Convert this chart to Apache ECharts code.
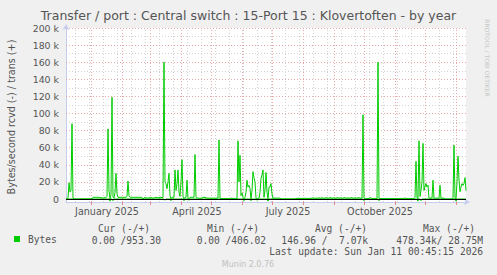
<!DOCTYPE html>
<html><head><meta charset="utf-8">
<script src="https://cdn.jsdelivr.net/npm/echarts@6/dist/echarts.min.js"></script>
<style>html,body{margin:0;padding:0;background:#f0f0f0}#c{width:497px;height:275px}</style>
</head><body><div id="c"></div>
<script>
// ---- data (values in k bytes/second), one value per day from 2024-12-07 00:45 ----
const startUTC = [2024, 11, 7, 0, 45];
const trans = [
  0,0,1,19,8,10,88,1,0,0,
  0,0,0,0,0,0,0,0,0,0,
  0,0,0,0,0,0,0,2,2,2,
  2,2,2,2,1.5,1.5,1.5,1,1.5,1.5,
  1.5,3,82,10,0,5,119,2,1,8,
  30,6,2,2,2,2,2,2,2,2,
  2,3,21,4,2,2,2,2,2,2,
  2,2,2,2,2,2,2,0,1.5,1.5,
  1.5,1,1,1.5,1.5,1.5,1.5,1,1,2,
  2,1.5,1.5,1.5,2,2,1.5,2,160,20,
  18,12,20,30,4,0,2,2,2,34,
  10,18,34,8,3,20,46,3,0,2,
  2,22,1,0,2,2,2,2,2,52,
  2,1,1,1,1,1,1,2,2,2,
  1.5,1,1,1,1,1,1,1,1,1,
  1,1,1,69,1,0.5,0.5,0.5,0.5,0.5,
  0.5,0.5,0.5,0.5,0.5,1,1,0.5,0.5,0.5,
  0.5,0.5,68,20,51,4,7,2,0,2,
  8,22,14,16,12,0,10,32,25,20,
  1,0,1,1,8,24,28,34,2,10,
  31,8,0,14,14,18,6,1,1,1,
  1,1,1,1,1,0,0,0,0,0,
  0,0,0,0,0,0,0,0,0,0,
  0.7,0.7,0.7,1,0.7,0.7,0.7,0.7,1,0.7,
  0.7,0.7,0.7,0.7,0.7,0.7,1.5,1,1,1,
  1,1,1,1.5,1,1,1.5,1,1,1,
  1.5,1.5,1,1,1.5,1.5,1,1,1.5,1,
  1,1.5,1.5,1,1,1.5,1,1,1.5,1.5,
  1,1,1.5,1,1,1.5,1.5,1,1,1.5,
  1,1,1.5,1.5,1,1,1,98.5,1,0.5,
  0.5,0.5,0.5,0.5,1.5,1.5,0.5,0.5,0.5,0.5,
  0.5,0.5,160,0.5,0.5,0.5,0.5,0.5,0.5,0.5,
  0.5,0.5,0.5,0.5,0.5,0.5,0.5,0.5,0.5,0.5,
  0.5,0.5,0.5,0.5,0.5,0.5,0.5,0.5,0.5,1.5,
  0.5,0.5,0.5,0.5,0.5,0.5,0.5,0.5,0.5,2,
  44,2,0,68,3,10,20,65,10,15,
  18,14,16,1,1,1,1,22,1,1,
  1,1,1,1,16,1,1,1,1,0,
  0,0,0,0,0,0,0,2,63,1,
  0,20,50,22,8.5,14,18,16,18,25,
  10
];
// received (drawn negative): day index -> value (k)
const rcvdDips = [[44,-2.5],[47,-2],[99,-1.5],[105,-2],[118,-2],[123,-1.5],[178,-2],[185,-2],[191,-1.5],[202,-2.5],[298,-2],[313,-2],[352,-2.5],[355,-2],[390,-2.5]];
const yTicks = [0,20,40,60,80,100,120,140,160,180,200];
const yMinorTicks = [10,30,50,70,90,110,130,150,170,190];
const xLabelDates = [[2025,0,17],[2025,3,17],[2025,6,17],[2025,9,17]];
const xLabelTexts = ['January 2025','April 2025','July 2025','October 2025'];
const monthStarts = [[2025,0],[2025,1],[2025,2],[2025,3],[2025,4],[2025,5],[2025,6],[2025,7],[2025,8],[2025,9],[2025,10],[2025,11],[2026,0]];
const legendHeaders = ['Cur (-/+)','Min (-/+)','Avg (-/+)','Max (-/+)'];
const legendValues = ['0.00 /953.30','0.00 /406.02','146.96 /  7.07k','478.34k/ 28.75M'];
const titleText = 'Transfer / port : Central switch : 15-Port 15 : Klovertoften - by year';
const yName = 'Bytes/second rcvd (-) / trans (+)';
const lastUpdate = 'Last update: Sun Jan 11 00:45:15 2026';

// ---- build ----
const DAY = 86400000;
const t0 = Date.UTC(...startUTC);
const tEnd = t0 + 400 * DAY;
const transData = trans.map((v, d) => [t0 + d * DAY, v]);
const dipMap = new Map(rcvdDips);
const rcvdData = trans.map((_, d) => [t0 + d * DAY, dipMap.has(d) ? dipMap.get(d) : 0]);
const labelTs = xLabelDates.map(a => Date.UTC(a[0], a[1], a[2], 0, 45));
const monthTs = monthStarts.map(a => Date.UTC(a[0], a[1], 1));
const weekTs = [];
for (let t = Date.UTC(2024, 11, 16); t < tEnd; t += 14 * DAY) weekTs.push(t);

const RED = '#eaa8a8', GRAY = '#d2d2d2', GREEN = '#00cc00', AXIS = '#c4ccf2', TXT = '#555';
const dash = [1, 2];
const gridLines = [];
yMinorTicks.forEach(v => gridLines.push({yAxis: v, lineStyle: {color: GRAY, type: dash, width: 1}}));
weekTs.forEach(t => gridLines.push({xAxis: t, lineStyle: {color: GRAY, type: dash, width: 1}}));
yTicks.forEach(v => gridLines.push({yAxis: v, lineStyle: {color: RED, type: dash, width: 1}}));
monthTs.forEach(t => gridLines.push({xAxis: t, lineStyle: {color: RED, type: dash, width: 1}}));

const mono = 'DejaVu Sans Mono';
const texts = [];
const hdrX = [98, 207, 315, 423];
legendHeaders.forEach((s, i) => texts.push({type: 'text', x: hdrX[i], y: 228, style: {text: s, font: '9.6px "' + mono + '"', fill: TXT, textAlign: 'left', textVerticalAlign: 'middle'}}));
const valRight = [161, 266, 368, 483];
legendValues.forEach((s, i) => texts.push({type: 'text', x: valRight[i], y: 240, style: {text: s, font: '9.6px "' + mono + '"', fill: TXT, textAlign: 'right', textVerticalAlign: 'middle'}}));
texts.push({type: 'text', x: 483, y: 251.5, style: {text: lastUpdate, font: '9.6px "' + mono + '"', fill: TXT, textAlign: 'right', textVerticalAlign: 'middle'}});
texts.push({type: 'text', x: 248, y: 264.5, style: {text: 'Munin 2.0.76', font: '8px "DejaVu Sans"', fill: '#c0c0c0', textAlign: 'center', textVerticalAlign: 'middle'}});
texts.push({type: 'text', x: 11, y: 117, rotation: Math.PI / 2, style: {text: yName, font: '9.6px "DejaVu Sans"', fill: TXT, textAlign: 'center', textVerticalAlign: 'middle'}});
texts.push({type: 'text', x: 487, y: 58, rotation: -Math.PI / 2, style: {text: 'RRDTOOL / TOBI OETIKER', font: '6px "DejaVu Sans"', fill: '#c8c8c8', textAlign: 'center', textVerticalAlign: 'middle'}});

const chart = echarts.init(document.getElementById('c'), null, {renderer: 'svg'});
chart.setOption({
  animation: false,
  backgroundColor: '#f0f0f0',
  textStyle: {fontFamily: 'DejaVu Sans'},
  title: {text: titleText, left: 'center', top: 4, padding: [5, 5, 0, 5], textStyle: {fontSize: 12.5, lineHeight: 13, fontWeight: 'normal', color: TXT, fontFamily: 'DejaVu Sans'}},
  grid: {left: 66, top: 28, width: 400, height: 174, show: true, backgroundColor: '#ffffff', borderWidth: 0, outerBoundsMode: 'none'},
  legend: {data: ['Bytes'], left: 9, top: 229, icon: 'rect', itemWidth: 6, itemHeight: 6, itemGap: 0,
    textStyle: {fontFamily: mono, fontSize: 9.6, color: TXT, padding: [0, 0, 0, 3]}},
  xAxis: {type: 'value', min: t0, max: tEnd,
    axisLine: {onZero: false, lineStyle: {color: AXIS, width: 1}, symbol: ['none', 'arrow'], symbolSize: [5, 6], symbolOffset: [0, 4]},
    axisTick: {show: true, customValues: monthTs, length: 3, lineStyle: {color: '#e08a8a'}},
    axisLabel: {customValues: labelTs, formatter: v => { const i = labelTs.indexOf(v); return i >= 0 ? xLabelTexts[i] : ''; }, color: TXT, fontSize: 9.6, margin: 4, fontFamily: 'DejaVu Sans', hideOverlap: false},
    splitLine: {show: false}},
  yAxis: {type: 'value', min: -3.5, max: 200,
    axisLine: {show: true, lineStyle: {color: AXIS, width: 1}, symbol: ['none', 'arrow'], symbolSize: [5, 6], symbolOffset: [0, 4]},
    axisTick: {show: false},
    axisLabel: {customValues: yTicks, formatter: v => v === 0 ? '0' : v + ' k', color: TXT, fontSize: 9.4, lineHeight: 10, margin: 7, fontFamily: 'DejaVu Sans'},
    splitLine: {show: false}},
  series: [
    {type: 'line', name: '', data: [], silent: true, z: 1,
      markLine: {silent: true, symbol: ['none', 'none'], label: {show: false}, z: 1, animation: false, data: gridLines}},
    {type: 'line', name: 'Bytes', data: rcvdData, showSymbol: false, z: 2, lineStyle: {color: GREEN, width: 1}, itemStyle: {color: GREEN}},
    {type: 'line', name: 'Bytes', data: transData, showSymbol: false, z: 3, lineStyle: {color: GREEN, width: 1}, itemStyle: {color: GREEN}},
    {type: 'line', name: '', data: [], silent: true, z: 4,
      markLine: {silent: true, symbol: ['none', 'none'], label: {show: false}, z: 4, animation: false, data: [{yAxis: 0, lineStyle: {color: '#000', type: 'solid', width: 1}}]}}
  ],
  graphic: texts
});
</script></body></html>
